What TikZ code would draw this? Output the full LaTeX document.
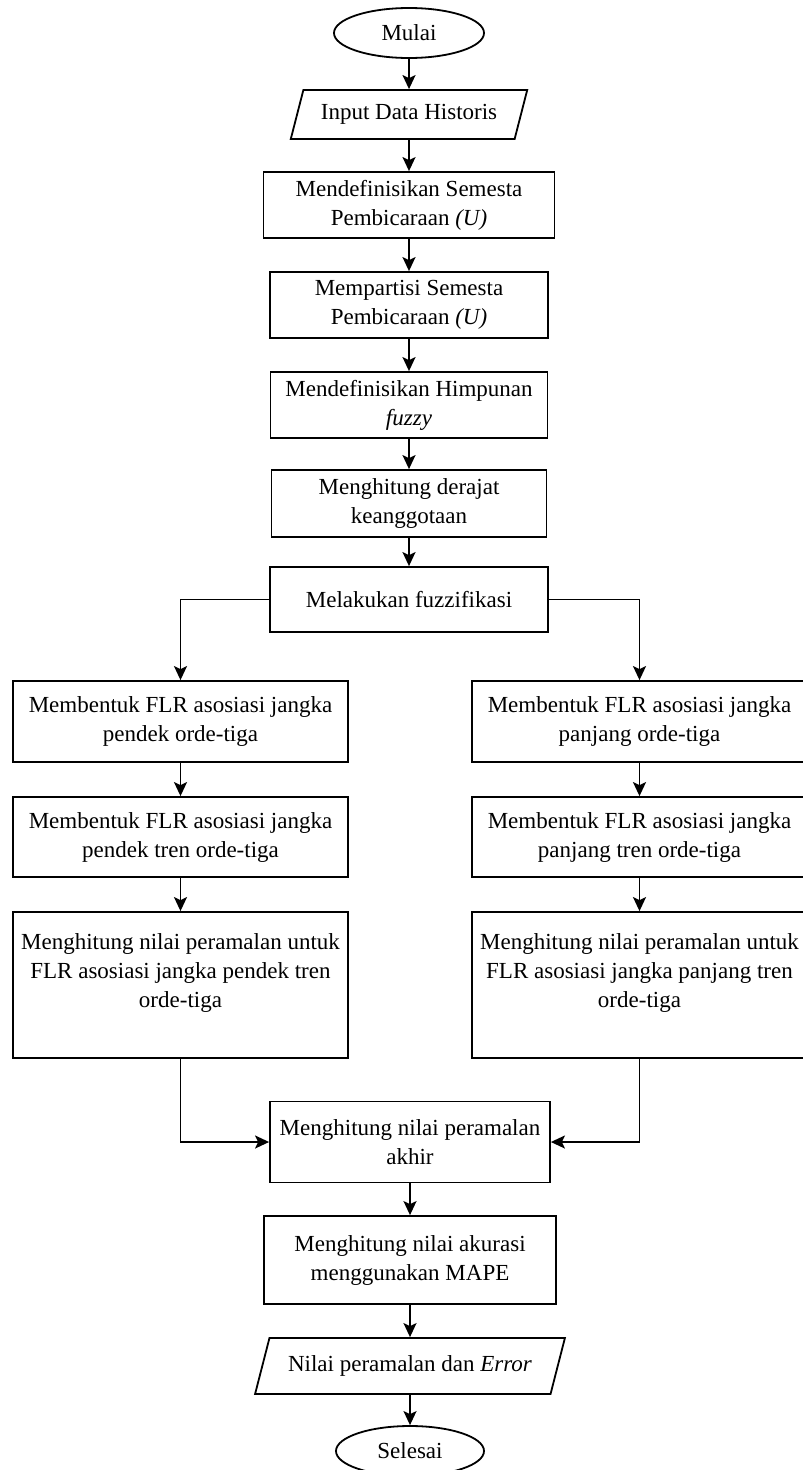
\documentclass[tikz,border=0pt]{standalone}
\usepackage{fontspec}
\setmainfont{Liberation Serif}
\usetikzlibrary{shapes.geometric,arrows.meta}
\tikzset{
  process/.style={
    rectangle,
    draw=black,
    line width=1.8pt,
    align=center,
    inner sep=2pt,
    font=\fontsize{23}{29}\selectfont,
  },
  terminal/.style={
    ellipse,
    draw=black,
    line width=1.8pt,
    inner sep=0pt,
    minimum width=150pt,
    minimum height=50pt,
    font=\fontsize{23}{29}\selectfont,
  },
  data/.style={
    trapezium,
    trapezium stretches=true,
    draw=black,
    line width=1.8pt,
    inner sep=2pt,
    font=\fontsize{23}{29}\selectfont,
  },
  flow/.style={
    -{Stealth[length=14pt, width=13pt, inset=3pt]},
    line width=1.8pt,
  }
}

\begin{document}
\begin{tikzpicture}[x=1pt, y=-1pt]
  \useasboundingbox (0, 0) rectangle (803, 1470);

  % middle column
  \node[terminal] (mulai) at (409, 33) {Mulai};
  \node[data, trapezium left angle=66, trapezium right angle=114,
    minimum width=237pt, minimum height=49pt] (input) at (409, 114.5) {Input Data Historis};
  \node[process, minimum width=291pt, minimum height=66pt] (semesta) at (409, 205)
    {Mendefinisikan Semesta\\ Pembicaraan \textit{(U)}};
  \node[process, minimum width=278pt, minimum height=66pt] (partisi) at (409, 305)
    {Mempartisi Semesta\\ Pembicaraan \textit{(U)}};
  \node[process, minimum width=277pt, minimum height=66pt] (himpunan) at (409, 405)
    {Mendefinisikan Himpunan\\ \textit{fuzzy}};
  \node[process, minimum width=275pt, minimum height=67pt] (derajat) at (409, 503.5)
    {Menghitung derajat\\ keanggotaan};
  \node[process, minimum width=278pt, minimum height=65pt] (fuzzifikasi) at (409, 599.5)
    {Melakukan fuzzifikasi};

  % left branch
  \node[process, minimum width=335pt, minimum height=81pt] (pendekA) at (180.5, 721.5)
    {Membentuk FLR asosiasi jangka\\ pendek orde-tiga};
  \node[process, minimum width=335pt, minimum height=80pt] (pendekB) at (180.5, 837)
    {Membentuk FLR asosiasi jangka\\ pendek tren orde-tiga};
  \node[process, minimum width=335pt, minimum height=146pt] (pendekC) at (180.5, 985)
    {Menghitung nilai peramalan untuk\\ FLR asosiasi jangka pendek tren\\ orde-tiga\\ \mbox{}};

  % right branch
  \node[process, minimum width=335pt, minimum height=81pt] (panjangA) at (639.5, 721.5)
    {Membentuk FLR asosiasi jangka\\ panjang orde-tiga};
  \node[process, minimum width=335pt, minimum height=80pt] (panjangB) at (639.5, 837)
    {Membentuk FLR asosiasi jangka\\ panjang tren orde-tiga};
  \node[process, minimum width=335pt, minimum height=146pt] (panjangC) at (639.5, 985)
    {Menghitung nilai peramalan untuk\\ FLR asosiasi jangka panjang tren\\ orde-tiga\\ \mbox{}};

  % bottom
  \node[process, minimum width=280pt, minimum height=81pt] (akhir) at (410, 1142)
    {Menghitung nilai peramalan\\ akhir};
  \node[process, minimum width=292pt, minimum height=88pt] (mape) at (410, 1260)
    {Menghitung nilai akurasi\\ menggunakan MAPE};
  \node[data, trapezium left angle=63, trapezium right angle=117,
    minimum width=311pt, minimum height=56pt] (output) at (410, 1366)
    {Nilai peramalan dan \textit{Error}};
  \node[terminal, minimum width=148pt] (selesai) at (410, 1451) {Selesai};

  \foreach \from/\to in {
    mulai/input,
    input/semesta,
    semesta/partisi,
    partisi/himpunan,
    himpunan/derajat,
    derajat/fuzzifikasi,
    pendekA/pendekB,
    pendekB/pendekC,
    panjangA/panjangB,
    panjangB/panjangC,
    akhir/mape,
    mape/output,
    output/selesai}
    \draw[flow] (\from) -- (\to);

  \draw[flow] (fuzzifikasi.west) -| (pendekA.north);
  \draw[flow] (fuzzifikasi.east) -| (panjangA.north);
  \draw[flow] (pendekC.south) |- (akhir.west);
  \draw[flow] (panjangC.south) |- (akhir.east);

\end{tikzpicture}
\end{document}
